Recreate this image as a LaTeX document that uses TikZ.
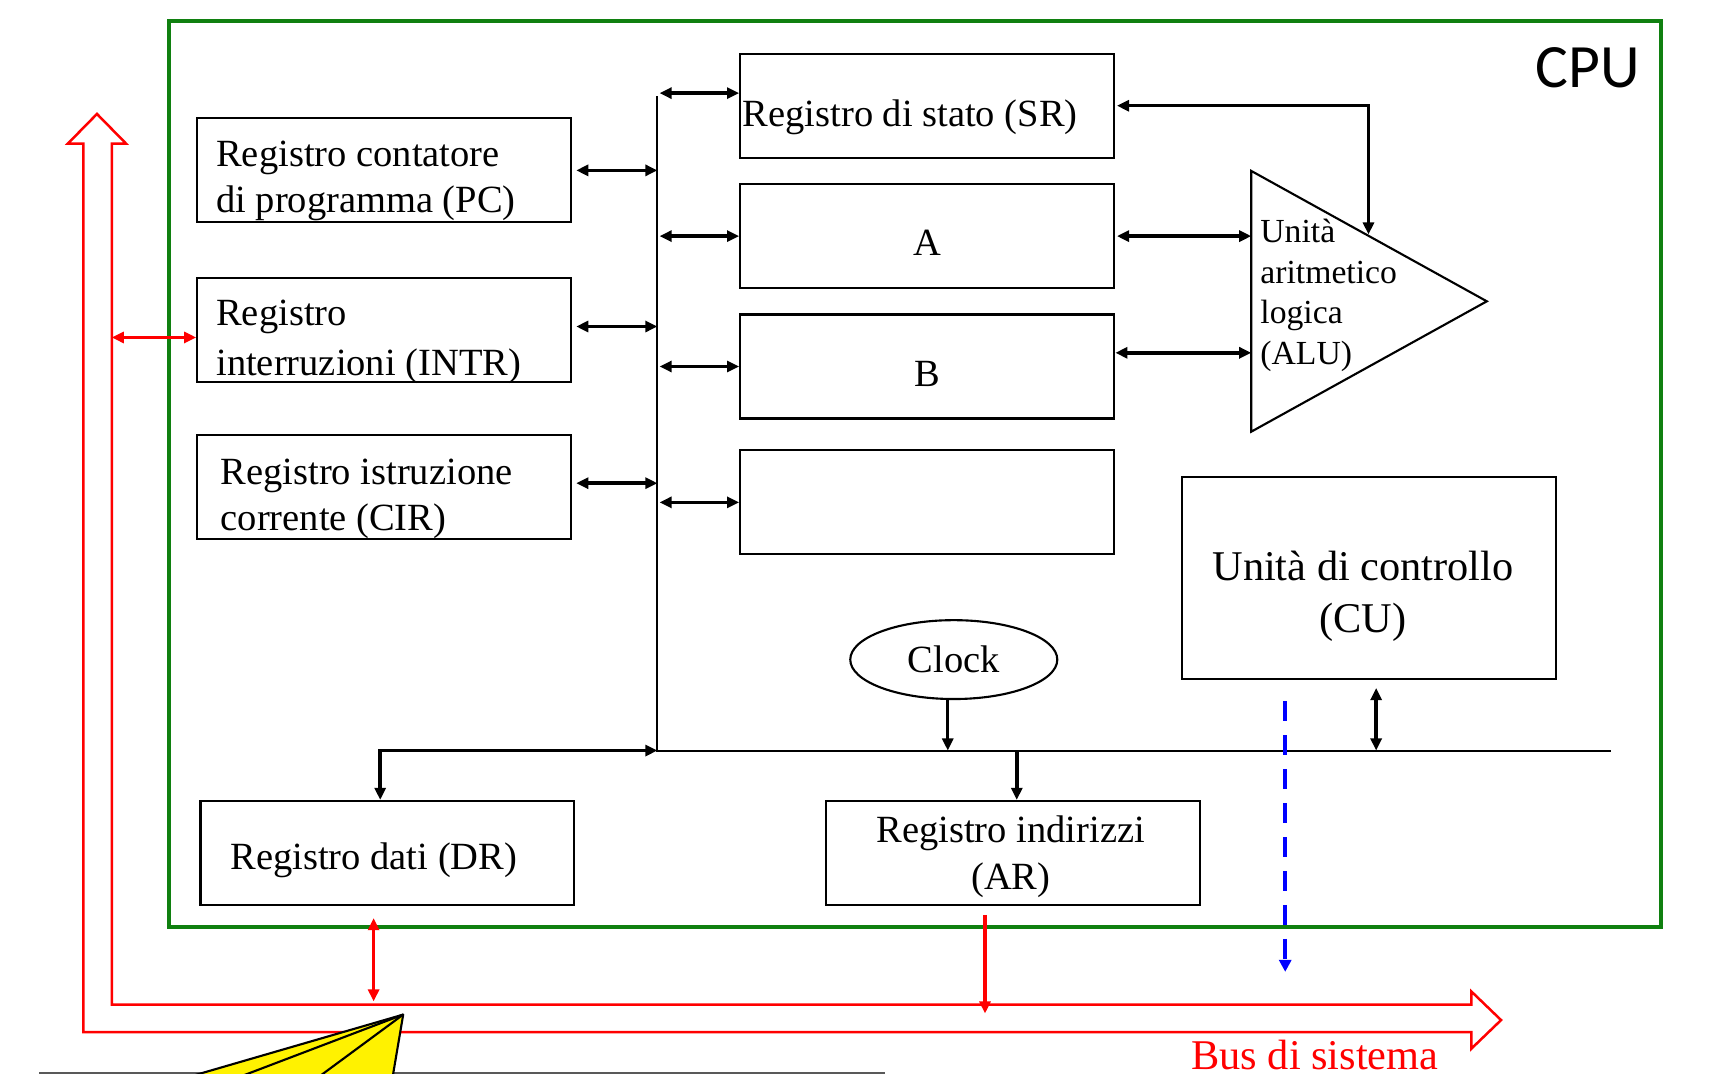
\documentclass[tikz,border=0pt]{standalone}
\usepackage{fontspec}
\setmainfont{Liberation Serif}
\newfontfamily\cpufont{Carlito}
\usetikzlibrary{arrows.meta,shapes.geometric,calc}
\definecolor{cpugreen}{RGB}{16,128,16}
\begin{document}
\begin{tikzpicture}[x=0.02cm,y=-0.02cm,
  >={Triangle[length=0.22cm,width=0.2cm]},
  reg/.style={draw,line width=1.1pt,minimum width=6.82cm,minimum height=1.9cm,inner sep=0pt},
  regtxt/.style={inner sep=0pt,align=left,anchor=west,font=\fontsize{20}{24}\selectfont},
  regtxtc/.style={inner sep=0pt,align=center,font=\fontsize{20}{24}\selectfont},
  arr/.style={line width=1.8pt},
  bus/.style={line width=1pt},
  redarr/.style={red,line width=1.9pt},
  redbus/.style={red,line width=1.3pt},
  ]
\clip (0,0) rectangle (1568,980);
\fill[white] (0,0) rectangle (1568,980);

% CPU frame
\node[draw=cpugreen,line width=2.2pt,minimum width=27.24cm,minimum height=16.54cm,inner sep=0pt] (cpu) at (835,432.5) {};
\node[anchor=east,inner sep=0pt,font=\cpufont\fontsize{32}{36}\selectfont] (cpulbl) at (1497,62) {CPU};

% left registers
\node[reg] (pc) at (350.5,155.5) {};
\node[regtxt] (pct) at ([xshift=0.36cm,yshift=-0.19cm]pc.west) {Registro contatore\\di programma (PC)};
\node[reg] (intr) at (350.5,301.5) {};
\node[regtxt,font=\fontsize{20}{26}\selectfont] (intrt) at ([xshift=0.36cm,yshift=-0.21cm]intr.west) {Registro\\interruzioni (INTR)};
\node[reg] (cir) at (350.5,444.5) {};
\node[regtxt] (cirt) at ([xshift=0.44cm,yshift=-0.21cm]cir.west) {Registro istruzione\\corrente (CIR)};

% middle registers
\node[reg] (sr) at (846,96.5) {};
\node[regtxt] (srt) at ([xshift=0.06cm,yshift=-0.21cm]sr.west) {Registro di stato (SR)};
\node[reg] (a) at (846,215.5) {};
\node[regtxtc] (at) at ([yshift=-0.13cm]a.center) {A};
\node[reg] (b) at (846,334.5) {};
\node[regtxtc] (bt) at ([yshift=-0.13cm]b.center) {B};
\node[reg] (e) at (846,458.5) {};

% ALU
\coordinate (alutl) at (1142,156);
\coordinate (alutip) at (1357,275);
\coordinate (alubl) at (1142,394);
\coordinate (alutop) at (1249,214);
\draw[line width=1.1pt] (alutl) -- (alutip) -- (alubl) -- cycle;
\node[anchor=north west,inner sep=0pt,align=left,font=\fontsize{17.5}{21}\selectfont] (alutxt) at (1150,200) {Unità\\aritmetico\\logica\\(ALU)};

% CU
\node[reg,minimum height=3.7cm] (cu) at (1249.5,527.5) {};
\node[regtxtc,font=\fontsize{22}{27}\selectfont] (cut) at ([xshift=-0.11cm,yshift=-0.33cm]cu.center) {Unità di controllo\\(CU)};

% Clock
\node[draw,ellipse,line width=1.1pt,minimum width=3.78cm,minimum height=1.44cm,inner sep=0pt,font=\fontsize{20}{24}\selectfont] (clk) at (870.5,602) {Clock};

% bottom registers
\node[reg] (dr) at (353.5,778.5) {};
\node[regtxt] (drt) at ([xshift=0.56cm,yshift=-0.13cm]dr.west) {Registro dati (DR)};
\node[reg] (ar) at (924.5,778.5) {};
\node[regtxtc,font=\fontsize{20}{24.4}\selectfont] (art) at ([xshift=-0.04cm,yshift=-0.06cm]ar.center) {Registro indirizzi\\(AR)};

% internal buses
\coordinate (vtop) at (600,88);
\coordinate (vbot) at (600,685);
\coordinate (hend) at (1470,685);
\draw[bus] (vtop) -- (vbot) -- (hend);

% left register links
\draw[arr,<->] ([xshift=0.08cm]pc.east) -- (pc.east -| vtop);
\draw[arr,<->] ([xshift=0.08cm,yshift=0.07cm]intr.east) -- ([yshift=0.07cm]intr.east -| vtop);
\draw[arr,<->] ([xshift=0.08cm,yshift=0.07cm]cir.east) -- ([yshift=0.07cm]cir.east -| vtop);

% middle register links
\coordinate (srl) at (602,85);
\draw[arr,<->] (srl) -- (srl -| sr.west);
\draw[arr,<->] ([xshift=0.04cm]a.west -| vtop) -- (a.west);
\draw[arr,<->] ([xshift=0.04cm]b.west -| vtop) -- (b.west);
\draw[arr,<->] ([xshift=0.04cm]e.west -| vtop) -- (e.west);

% ALU links
\draw[arr,<->] ([xshift=0.04cm]sr.east) -| (alutop);
\draw[arr,<->] ([xshift=0.04cm]a.east) -- (a.east -| alutl);
\coordinate (bra) at (1018,322);
\draw[arr,<->] (bra) -- (bra -| alutl);

% clock, CU, AR, DR links
\draw[arr,->] ([xshift=-0.11cm]clk.south) -- ([xshift=-0.11cm]clk.south |- vbot);
\draw[arr,<->] ([xshift=0.13cm,yshift=-0.14cm]cu.south) -- ([xshift=0.13cm]cu.south |- vbot);
\draw[arr,->] ([xshift=0.07cm]ar.north |- vbot) -- ([xshift=0.07cm]ar.north);
\draw[arr,<->] ([xshift=-0.13cm]dr.north) |- (vbot);

% system bus (hollow arrow)
\draw[redbus,line join=miter]
  (76,942) -- (76,131) -- (62,131) -- (88.5,104) -- (115,131) -- (102,131)
  -- (102,917) -- (1343,917) -- (1343,905) -- (1370,931) -- (1343,957)
  -- (1343,942) -- cycle;
\node[anchor=base west,inner sep=0pt,red,font=\fontsize{22}{26}\selectfont] (buslbl) at (1087,976) {Bus di sistema};

% red links to system bus
\coordinate (ri) at (102,308);
\draw[redarr,<->] (ri) -- (ri -| intr.west);
\coordinate (rd1) at (341,838);
\coordinate (rd2) at (341,914);
\draw[redarr,<->] (rd1) -- (rd2);
\coordinate (ra1) at (899,835);
\coordinate (ra2) at (899,925);
\draw[redarr,->] (ra1) -- (ra2);

% blue dashed control link
\coordinate (bl1) at (1173,640);
\coordinate (bl2) at (1173,887);
\draw[blue,line width=1.8pt,dash pattern=on 0.36cm off 0.26cm,-{Triangle[length=0.22cm,width=0.22cm]}] (bl1) -- (bl2);

% yellow fan at bottom
\draw[gray!70!black,line width=1.5pt] (36,979.5) -- (808,979.5);
\coordinate (ytip) at (368,926);
\filldraw[fill=yellow,draw=black,line width=1.1pt,line join=round] (ytip) -- (165,985) -- (358,985) -- cycle;
\draw[line width=1.1pt] (ytip) -- (213,985);
\draw[line width=1.1pt] (ytip) -- (288,985);
\end{tikzpicture}
\end{document}
